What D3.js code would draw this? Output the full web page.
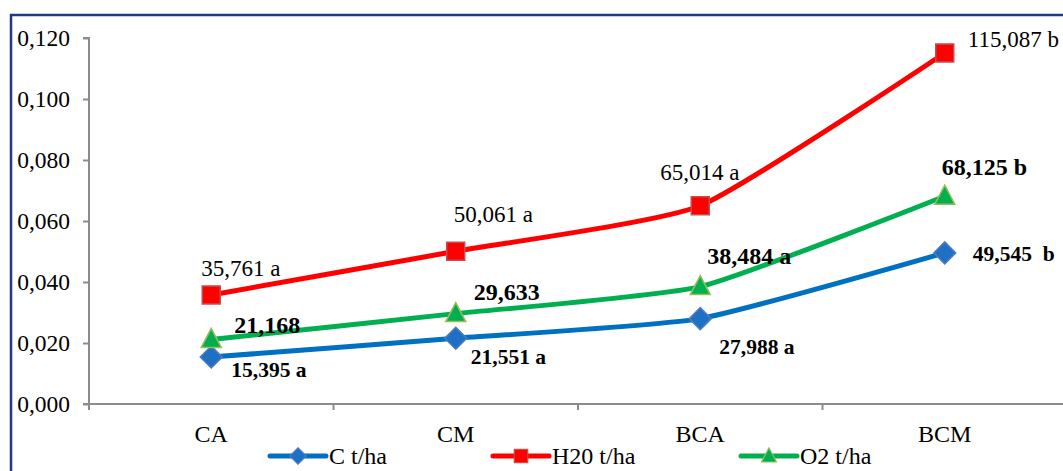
<!DOCTYPE html>
<html>
<head>
<meta charset="utf-8">
<script src="https://cdn.jsdelivr.net/npm/d3@7"></script>
<style>
  html, body { margin: 0; padding: 0; background: #fff; }
  svg { display: block; }
  svg text { font-family: "Liberation Serif", "Times New Roman", Tinos, "DejaVu Serif", serif !important; white-space: pre; }
</style>
</head>
<body>
<svg id="chart" width="1063" height="471"></svg>
<script>
// Treatments on the x axis
const categories = ["CA", "CM", "BCA", "BCM"];

// Series values (plotted in the axis unit)
const cValues   = [0.015395, 0.021551, 0.027988, 0.049545];
const h2oValues = [0.035761, 0.050061, 0.065014, 0.115087];
const o2Values  = [0.021168, 0.029633, 0.038484, 0.068125];

// Significance letters appended to each value label
const cLetters   = [" a", " a", " a", "  b"];
const h2oLetters = [" a", " a", " a", " b"];
const o2Letters  = ["", "", " a", " b"];

// Y axis tick values
const yTicks = [0, 0.02, 0.04, 0.06, 0.08, 0.10, 0.12];

const seriesNames = ["C t/ha", "H20 t/ha", "O2 t/ha"];

// Label placement relative to each point (dx = left edge, dy = baseline)
const cLabelOffsets   = [[20, 20], [15, 26], [19, 35], [28, 8]];
const h2oLabelOffsets = [[-10, -19], [-2, -29], [-40, -26], [23, -6]];
const o2LabelOffsets  = [[23, -6], [18, -14], [7, -23], [-3, -21]];

(function draw() {
  const svg = d3.select("#chart");
  const W = 1063, H = 471;
  const plotLeft = 89, plotRight = 1067, plotTop = 38, plotBottom = 404;

  const x = d3.scaleBand().domain(categories).range([plotLeft, plotRight]);
  const y = d3.scaleLinear().domain([0, 0.12]).range([plotBottom, plotTop]);
  const fmt = v => d3.format(".3f")(v).replace(".", ",");
  const fmtLabel = v => d3.format(".3f")(v * 1000).replace(".", ",");

  // Outer frame (extends past right/bottom)
  svg.append("path")
    .attr("d", `M11,${H + 5} L11,15 L${W + 5},15`)
    .attr("fill", "none").attr("stroke", "#1F3B7F").attr("stroke-width", 2.5);

  // Y axis
  const yAxis = svg.append("g").attr("transform", `translate(${plotLeft},0)`)
    .call(d3.axisLeft(y).tickValues(yTicks).tickFormat(fmt).tickSize(6).tickPadding(13));
  yAxis.attr("font-family", null).attr("font-size", null);
  yAxis.select(".domain").attr("stroke", "#8c8c8c").attr("stroke-width", 2)
    .attr("d", `M-6,${y(0.12)}H0V${plotBottom}`);
  yAxis.selectAll(".tick line").attr("stroke", "#8c8c8c").attr("stroke-width", 2);
  yAxis.selectAll(".tick text").attr("font-size", 23.5).attr("fill", "#000");

  // X axis with ticks between categories
  const xAxis = svg.append("g").attr("transform", `translate(0,${plotBottom})`);
  xAxis.append("line").attr("x1", plotLeft - 6).attr("x2", W + 5).attr("y1", 0).attr("y2", 0)
    .attr("stroke", "#8c8c8c").attr("stroke-width", 2);
  const boundaries = categories.map(c => x(c)).concat([x(categories[3]) + x.bandwidth()]);
  xAxis.selectAll("line.tk").data(boundaries).join("line").attr("class", "tk")
    .attr("x1", d => d).attr("x2", d => d).attr("y1", 0).attr("y2", 6)
    .attr("stroke", "#8c8c8c").attr("stroke-width", 2);
  xAxis.selectAll("text").data(categories).join("text")
    .attr("x", d => x(d) + x.bandwidth() / 2).attr("y", 38)
    .attr("text-anchor", "middle").attr("font-size", 24).attr("fill", "#000")
    .text(d => d);

  const cx = c => x(c) + x.bandwidth() / 2;
  const line = d3.line().x((d, i) => cx(categories[i])).y(d => y(d))
    .curve(d3.curveCardinal.tension(0.5));

  const series = [
    { values: cValues, letters: cLetters, offsets: cLabelOffsets, line: "#0070C0",
      fill: "#1F6FC5", edge: "#4A7EBB", marker: "diamond", bold: true, size: 21.5 },
    { values: h2oValues, letters: h2oLetters, offsets: h2oLabelOffsets, line: "#FF0000",
      fill: "#FF0000", edge: "#C0504D", marker: "square", bold: false, size: 23 },
    { values: o2Values, letters: o2Letters, offsets: o2LabelOffsets, line: "#00B050",
      fill: "#00B050", edge: "#9BBB59", marker: "triangle", bold: true, size: 24 }
  ];

  function markerPath(type) {
    if (type === "diamond") return "M0,-11L11,0L0,11L-11,0Z";
    if (type === "square") return "M-9,-9H9V9H-9Z";
    return "M0,-11L10,8H-10Z";
  }

  // Lines first, then markers, then labels
  series.forEach(s => {
    svg.append("path").datum(s.values).attr("d", line)
      .attr("fill", "none").attr("stroke", s.line).attr("stroke-width", 5);
  });
  series.forEach(s => {
    svg.append("g").selectAll("path").data(s.values).join("path")
      .attr("transform", (d, i) => `translate(${cx(categories[i])},${y(d)})`)
      .attr("d", markerPath(s.marker))
      .attr("fill", s.fill).attr("stroke", s.edge).attr("stroke-width", 1.5);
  });
  series.forEach(s => {
    svg.append("g").selectAll("text").data(s.values).join("text")
      .attr("x", (d, i) => cx(categories[i]) + s.offsets[i][0])
      .attr("y", (d, i) => y(d) + s.offsets[i][1])
      .attr("font-size", s.size)
      .attr("font-weight", s.bold ? "bold" : "normal")
      .attr("fill", "#000")
      .text((d, i) => fmtLabel(d) + s.letters[i]);
  });

  // Legend
  const legendX = [270, 493, 741];
  const legend = svg.append("g").attr("transform", "translate(0,456)");
  series.forEach((s, i) => {
    const g = legend.append("g").attr("transform", `translate(${legendX[i]},0)`);
    g.append("line").attr("x1", 0).attr("x2", 56).attr("stroke", s.line)
      .attr("stroke-width", 5).attr("stroke-linecap", "round");
    g.append("path").attr("transform", "translate(28,0) scale(0.75)")
      .attr("d", markerPath(s.marker))
      .attr("fill", s.fill).attr("stroke", s.edge).attr("stroke-width", 1.5);
    g.append("text").attr("x", 59).attr("y", 8).attr("font-size", 24).attr("fill", "#000")
      .text(seriesNames[i]);
  });
})();
</script>
</body>
</html>
